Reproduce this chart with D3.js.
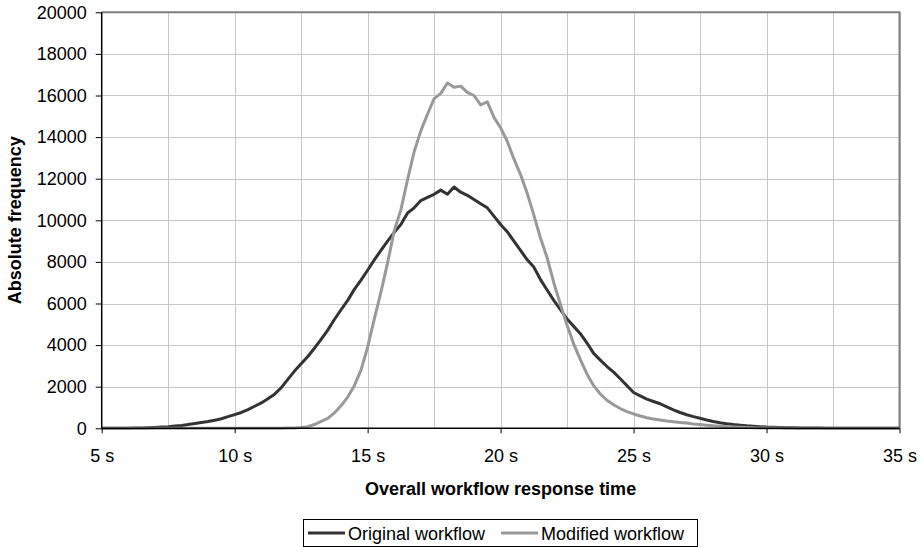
<!DOCTYPE html>
<html>
<head>
<meta charset="utf-8">
<script src="https://cdn.jsdelivr.net/npm/d3@7"></script>
<style>
  body { margin: 0; background: #fff; }
  svg { display: block; font-family: "Liberation Sans", Arial, sans-serif; }
</style>
</head>
<body>
<svg id="chart"></svg>
<script>
// response time bins (seconds), one every 0.25 s
const times = d3.range(0, 121).map(i => 5 + i * 0.25);

const original = [
    0, 0, 0, 5, 5, 10, 15, 25, 40, 60,
    80, 110, 140, 180, 230, 280, 330, 390, 460, 560,
    660, 760, 900, 1060, 1220, 1420, 1640, 1950, 2350, 2750,
    3100, 3450, 3850, 4280, 4720, 5230, 5700, 6150, 6680, 7120,
    7600, 8100, 8550, 9000, 9420, 9800, 10350, 10600, 10950, 11100,
    11250, 11450, 11250, 11600, 11350, 11200, 11000, 10800, 10600, 10200,
    9800, 9450, 9000, 8550, 8100, 7750, 7150, 6650, 6150, 5700,
    5250, 4900, 4550, 4100, 3600, 3280, 2970, 2700, 2380, 2050,
    1720, 1560, 1400, 1290, 1180, 1030, 890, 760, 650, 560,
    480, 400, 330, 270, 220, 180, 150, 120, 100, 80,
    60, 50, 40, 30, 25, 20, 15, 10, 10, 5,
    5, 5, 0, 0, 0, 0, 0, 0, 0, 0, 0
];

const modified = [
    0, 0, 0, 0, 0, 0, 0, 0, 0, 0,
    0, 0, 0, 0, 0, 0, 0, 0, 0, 0,
    0, 0, 0, 0, 0, 0, 0, 5, 10, 20,
    35, 80, 180, 330, 480, 740, 1080, 1500, 2050, 2800,
    3900, 5250, 6550, 7950, 9500, 10500, 11950, 13300, 14300, 15100,
    15850, 16100, 16600, 16400, 16450, 16150, 16000, 15550, 15700, 14950,
    14450, 13800, 12950, 12200, 11300, 10250, 9150, 8200, 7000, 5950,
    4950, 4050, 3300, 2600, 2050, 1650, 1350, 1130, 950, 800,
    690, 590, 510, 450, 400, 350, 310, 280, 250, 210,
    180, 150, 120, 100, 80, 60, 45, 35, 25, 20,
    15, 10, 10, 5, 5, 5, 0, 0, 0, 0,
    0, 0, 0, 0, 0, 0, 0, 0, 0, 0, 0
];

const seriesNames = ['Original workflow', 'Modified workflow'];
const seriesColors = ['#333333', '#999999'];
const xTicks = [5, 10, 15, 20, 25, 30, 35];
const xGrid = d3.range(5, 35.01, 2.5);
const yTicks = d3.range(0, 20001, 2000);

const width = 923;
const height = 547;
const plot = { left: 101.7, right: 899.5, top: 12.3, bottom: 428.3 };

const svg = d3.select('svg#chart')
    .attr('width', width)
    .attr('height', height);

const x = d3.scaleLinear().domain([5, 35]).range([plot.left, plot.right]);
const y = d3.scaleLinear().domain([0, 20000]).range([plot.bottom, plot.top]);

// grid
const grid = svg.append('g').attr('stroke', '#c8c8c8').attr('stroke-width', 1);
grid.selectAll('line.h')
    .data(yTicks.slice(1))
    .join('line')
    .attr('class', 'h')
    .attr('x1', plot.left).attr('x2', plot.right)
    .attr('y1', d => Math.round(y(d)) + 0.5).attr('y2', d => Math.round(y(d)) + 0.5);
grid.selectAll('line.v')
    .data(xGrid.slice(1))
    .join('line')
    .attr('class', 'v')
    .attr('y1', plot.top).attr('y2', plot.bottom)
    .attr('x1', d => Math.round(x(d)) + 0.5).attr('x2', d => Math.round(x(d)) + 0.5);

// top / right frame
svg.append('path')
    .attr('d', `M${plot.left},${plot.top}H${plot.right}V${plot.bottom}`)
    .attr('fill', 'none')
    .attr('stroke', '#808080')
    .attr('stroke-width', 2);

// series
const line = d3.line()
    .x((d, i) => x(times[i]))
    .y(d => y(d));

[original, modified].forEach((values, k) => {
    svg.append('path')
        .datum(values)
        .attr('d', line)
        .attr('fill', 'none')
        .attr('stroke', seriesColors[k])
        .attr('stroke-width', 3)
        .attr('stroke-linejoin', 'round');
});

// axes
const yAxis = svg.append('g')
    .attr('transform', `translate(${plot.left},0)`)
    .call(d3.axisLeft(y).tickValues(yTicks).tickFormat(d3.format('d')).tickSize(6).tickPadding(9));
const xAxis = svg.append('g')
    .attr('transform', `translate(0,${plot.bottom})`)
    .call(d3.axisBottom(x).tickValues(xTicks).tickFormat(d => d + ' s').tickSize(5).tickPadding(16));

[yAxis, xAxis].forEach(g => {
    g.select('.domain').attr('stroke', '#000').attr('stroke-width', 1.5);
    g.selectAll('.tick line').attr('stroke', '#000');
    g.selectAll('.tick text')
        .attr('fill', '#000')
        .style('font-size', '18px')
        .style('font-family', '"Liberation Sans", Arial, sans-serif');
});
xAxis.select('.domain').attr('d', `M${plot.left},0H${plot.right}`);
yAxis.select('.domain').attr('d', `M0,${plot.top}V${plot.bottom}`);

// axis titles
svg.append('text')
    .attr('x', (plot.left + plot.right) / 2)
    .attr('y', 495)
    .attr('text-anchor', 'middle')
    .style('font-size', '18px')
    .style('font-weight', 'bold')
    .text('Overall workflow response time');

svg.append('text')
    .attr('transform', `translate(21,${(plot.top + plot.bottom) / 2}) rotate(-90)`)
    .attr('text-anchor', 'middle')
    .style('font-size', '18px')
    .style('font-weight', 'bold')
    .text('Absolute frequency');

// legend
const legend = svg.append('g');
legend.append('rect')
    .attr('x', 303.5).attr('y', 519.5)
    .attr('width', 394).attr('height', 27)
    .attr('fill', '#fff')
    .attr('stroke', '#000')
    .attr('stroke-width', 1);

const legendX = [308, 501];
seriesNames.forEach((name, k) => {
    legend.append('line')
        .attr('x1', legendX[k]).attr('x2', legendX[k] + 37)
        .attr('y1', 533).attr('y2', 533)
        .attr('stroke', seriesColors[k])
        .attr('stroke-width', 3);
    legend.append('text')
        .attr('x', legendX[k] + 40)
        .attr('y', 539.5)
        .style('font-size', '18px')
        .text(name);
});
</script>
</body>
</html>
